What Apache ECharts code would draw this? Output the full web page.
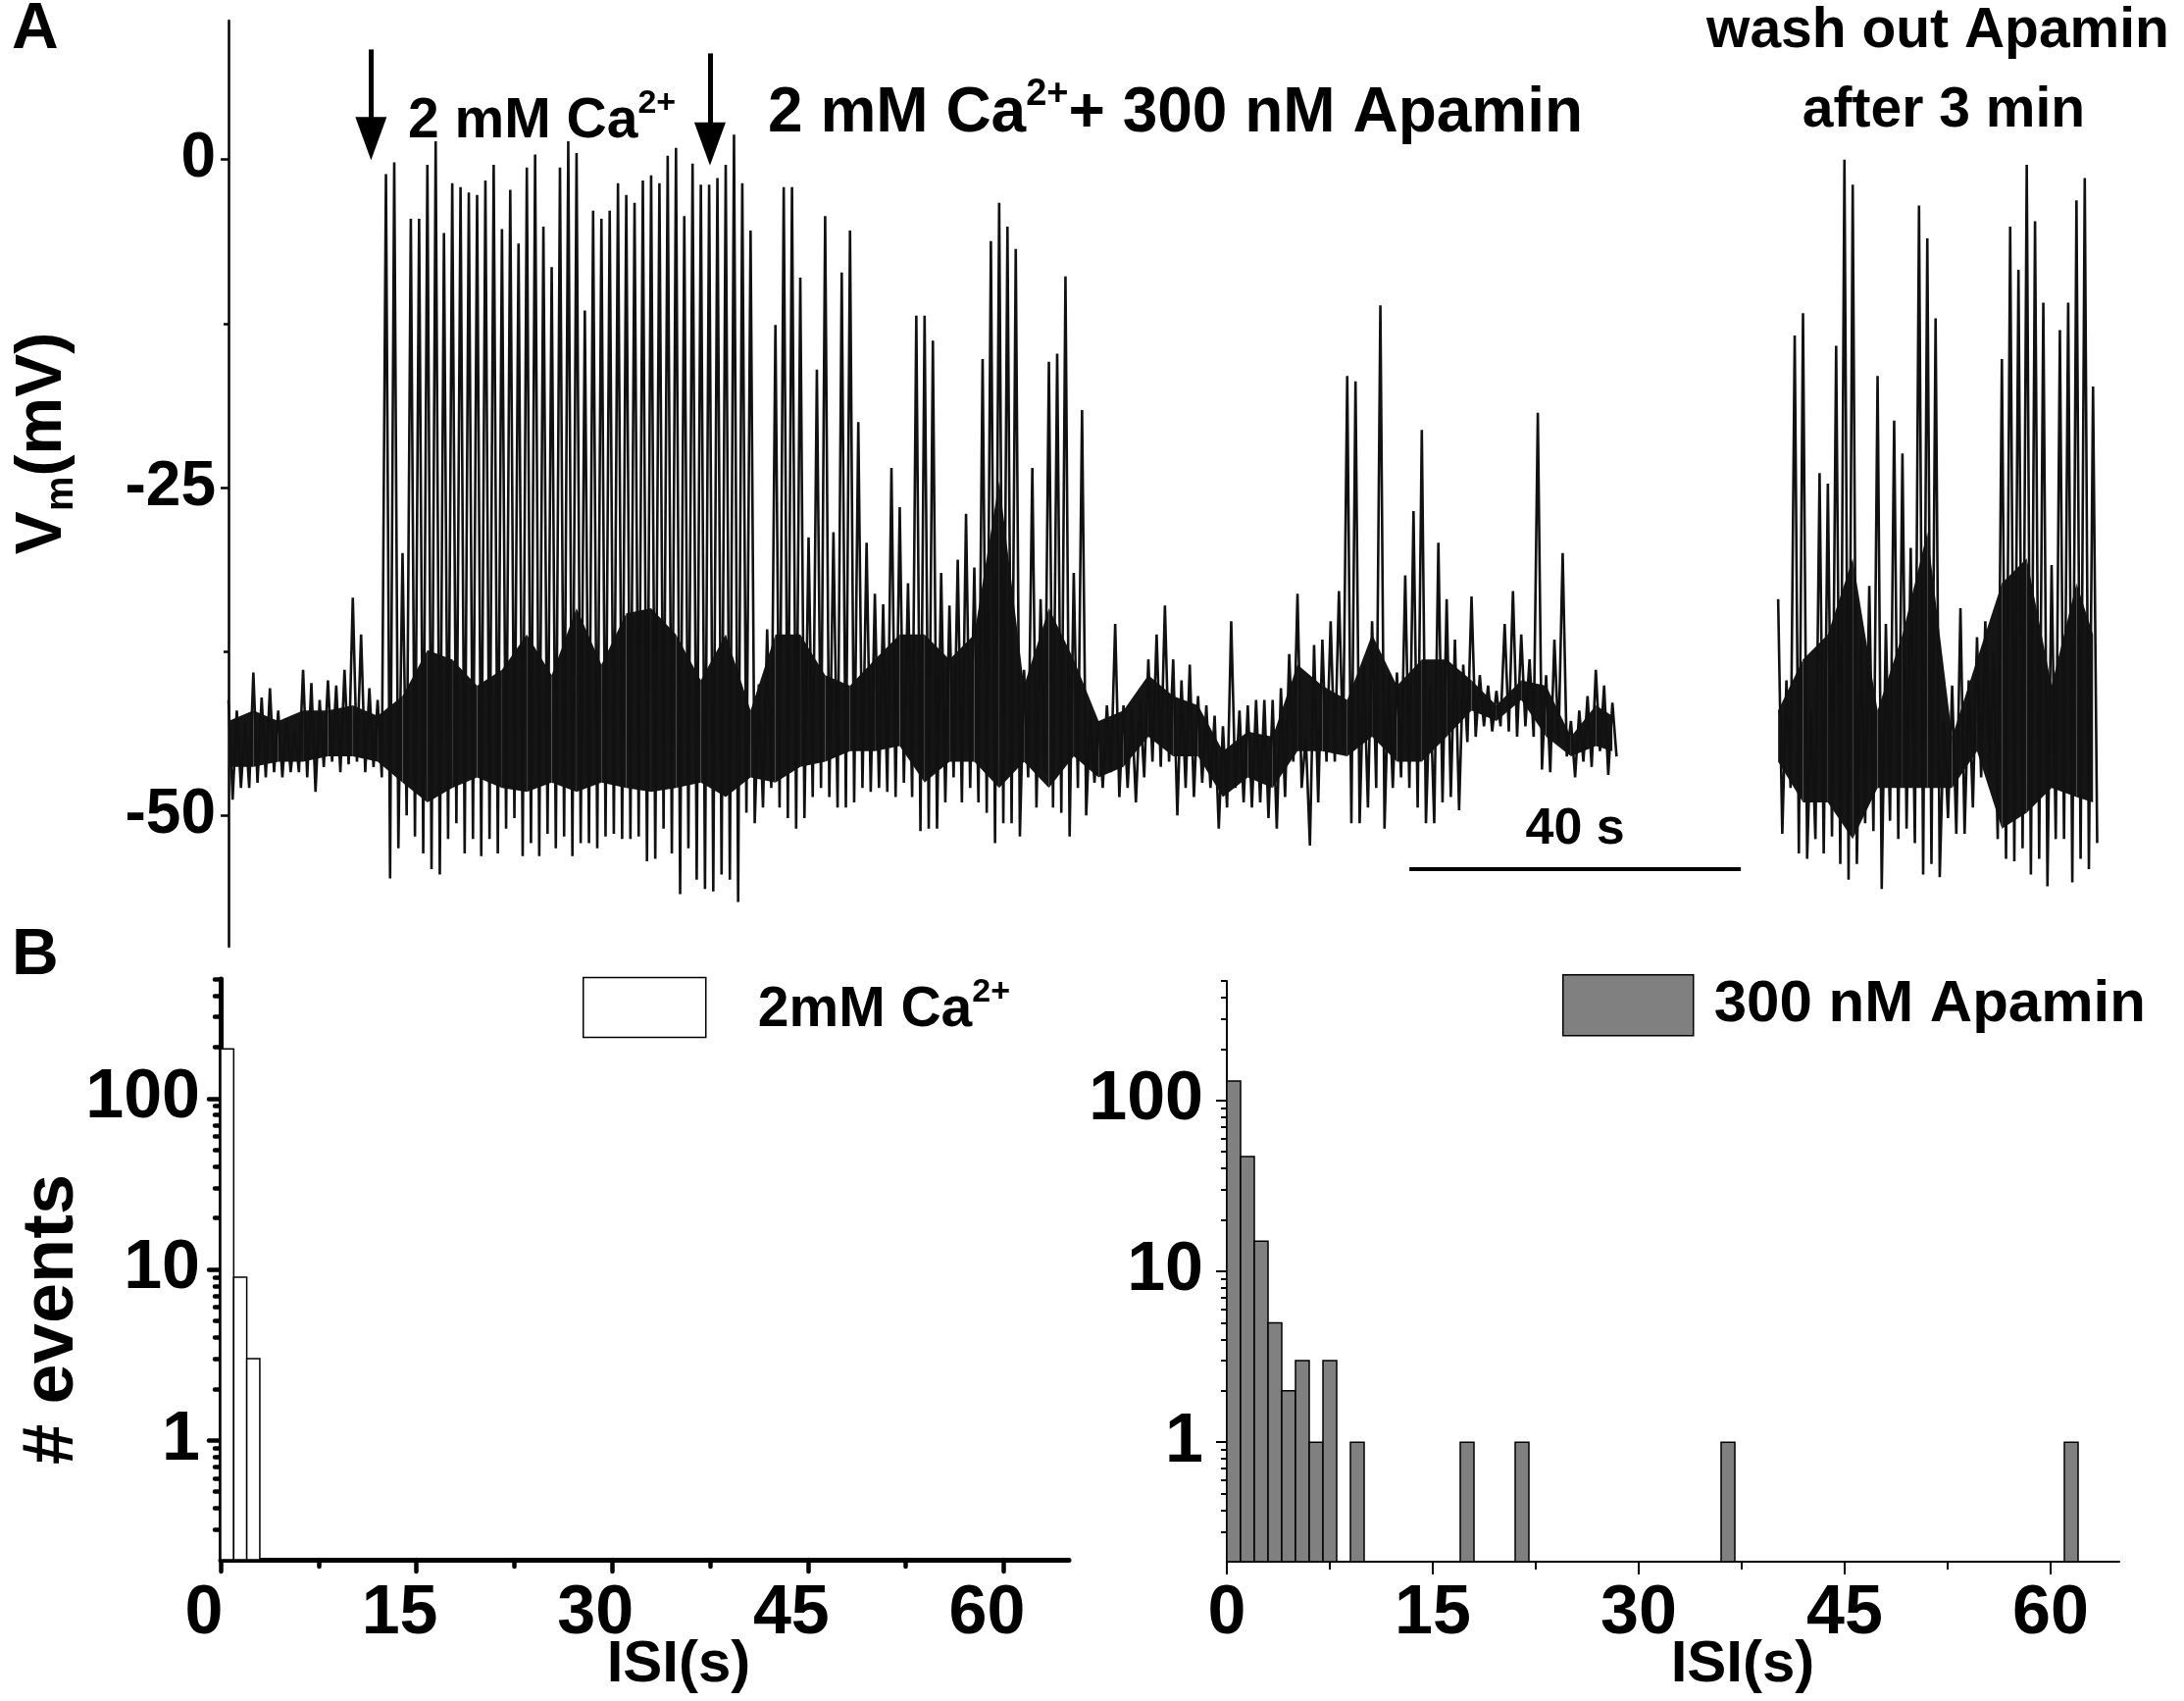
<!DOCTYPE html>
<html>
<head>
<meta charset="utf-8">
<title>Vm trace and ISI histograms</title>
<script src="https://cdn.jsdelivr.net/npm/echarts@6.0.0/dist/echarts.min.js"></script>
<style>
  html, body { margin: 0; padding: 0; background: #fff; }
  #chart { width: 2227px; height: 1734px; }
</style>
</head>
<body>
<div id="chart"></div>
<script>
var seg1Start = 0;     // s
var seg1Hi = [
  -41.2, -42.0, -42.8, -39.1, -41.0, -40.3, -42.0, -42.6, -43.6, -38.9,
  -39.9, -41.2, -39.7, -40.1, -38.9, -33.4, -36.2, -40.3, -41.2, -1.1,
  -0.2, -30, -4.5, -4.5, -0.4, 1.4, -5.6, -1.8, -2.1, -2.5,
  -2.7, -1.6, -0.4, -5.3, -2.3, -6.4, -0.6, 0.4, -5.1, -8.2,
  -0.6, 1.4, 0.5, -11.5, -3.9, -4.5, -3.9, -1.8, -2.7, -3.3,
  -1.6, -1.2, -1.8, 0.3, 0.9, -4.3, -0.3, -1.9, -1.9, -1.4,
  -0.4, 1.9, -1.8, -5.4, -40, -35.8, -12.6, -2.1, -2.1, -9.0,
  -28.8, -16.0, -4.3, -28.4, -8.6, -5.4, -20, -29.2, -33.1, -33.9,
  -23.5, -26.5, -32.3, -11.9, -11.9, -13.8, -31.5, -34, -30.5, -27.0,
  -31.1, -15.2, -6.2, -3.3, -5.1, -6.8, -38.9, -23.5, -33.5, -15.4,
  -14.8, -8.9, -31.5, -19.1, -42.0, -42.8, -41.6, -35.4, -41.6, -41.8,
  -41.4, -38.1, -36.2, -34.0, -38.1, -39.7, -38.5, -40.9, -41.6, -42.4,
  -43.2, -35.2, -42.0, -41.6, -41.2, -41.2, -41.2, -40.3, -37.7, -33.1,
  -44.0, -37.0, -36.6, -35.2, -32.9, -16.5, -16.9, -38.5, -35.2, -11.1,
  -39.3, -39.1, -31.7, -26.8, -20.6, -40.1, -29.2, -33.5, -36.6, -38.5,
  -33.3, -39.3, -40.1, -40.5, -35.4, -32.9, -36.2, -38.1, -19.3, -39.3,
  -36.6, -30.0, -42.8, -42.0, -40.9, -38.9, -40.1, -41.4
];
var seg1Lo = [
  -48.8, -47.9, -47.9, -47.5, -47.1, -46.7, -47.1, -46.7, -46.7, -47.1,
  -48.2, -46.3, -45.9, -46.7, -46.1, -45.9, -46.7, -46.3, -47.1, -54.8,
  -52.5, -50.0, -51.6, -52.9, -54.1, -54.5, -51.8, -50.6, -52.9, -51.8,
  -53.1, -51.8, -52.9, -51.0, -50.2, -53.1, -52.1, -53.1, -51.4, -52.5,
  -51.6, -53.1, -52.1, -52.1, -52.5, -51.6, -51.4, -51.8, -51.8, -51.6,
  -53.5, -53.3, -51.0, -52.9, -56.0, -52.5, -54.9, -55.6, -55.8, -54.5,
  -54.9, -56.6, -49.8, -50.6, -49.4, -47.9, -49.4, -50.2, -51.0, -50.2,
  -48.6, -47.9, -48.6, -49.4, -49.4, -49.0, -47.9, -48.2, -47.9, -48.2,
  -48.6, -47.5, -48.6, -51.2, -51.0, -51.0, -49.0, -47.1, -49.0, -47.9,
  -49.0, -49.8, -52.1, -50.6, -50.6, -51.6, -47.1, -49.4, -46.7, -49.4,
  -49.8, -51.6, -47.9, -50.0, -47.5, -47.9, -46.7, -48.6, -47.9, -49.0,
  -47.1, -45.9, -46.3, -45.9, -50.0, -47.9, -48.6, -47.5, -47.9, -51.0,
  -49.4, -47.9, -49.0, -49.4, -49.0, -50.2, -51.0, -48.6, -45.9, -47.9,
  -52.3, -49.0, -45.9, -45.9, -44.9, -50.6, -50.6, -49.4, -47.9, -51.0,
  -47.9, -47.1, -47.9, -49.4, -50.6, -50.6, -49.0, -48.6, -49.6, -44.4,
  -44.0, -43.2, -43.6, -43.2, -43.6, -44.0, -43.2, -44.0, -46.5, -46.7,
  -44.4, -45.5, -47.1, -45.9, -46.3, -45.1, -46.9, -45.5
];
var seg2Start = 187;   // s, after wash out
var seg2Hi = [
  -33.5, -39.7, -13.4, -11.7, -42.0, -23.9, -24.7, -14.2, 0.0, -1.9,
  -36.4, -32.5, -16.5, -35.4, -19.9, -22.4, -29.6, -3.5, -6.0, -12.1,
  -42.8, -40.1, -34.2, -39.7, -36.4, -35.2, -37.7, -15.2, -5.1, -8.4,
  -0.4, -4.7, -10.9, -30.9, -13.0, -10.9, -3.1, -1.4, -17.3
];
var seg2Lo = [
  -51.4, -47.9, -52.9, -53.3, -51.8, -52.9, -51.6, -53.7, -54.9, -53.7,
  -50.6, -51.2, -55.6, -50.4, -51.8, -51.0, -52.1, -54.5, -53.7, -54.7,
  -50.2, -51.4, -51.4, -49.4, -47.1, -47.1, -51.8, -53.3, -53.5, -52.5,
  -54.5, -53.3, -55.4, -51.8, -51.8, -55.1, -53.3, -54.1, -52.1
];
// dense core of the trace, read every 3 s
var core1T  = [0, 3, 6, 9, 12, 15, 18, 21, 24, 27, 30, 33, 36, 39, 42, 45, 48, 51, 54, 57,
               60, 63, 66, 69, 72, 75, 78, 81, 84, 87, 90, 93, 96, 99, 102, 105, 108, 111, 114, 117,
               120, 123, 126, 129, 132, 135, 138, 141, 144, 147, 150, 153, 156, 159, 162, 165, 167];
var core1Hi = [-42.8, -42.0, -42.8, -42.0, -42.0, -41.6, -42.4, -40.9, -37.4, -38.1, -40.1, -38.9, -36.2, -39.3, -34.2, -38.5, -34.6, -34.2, -36.2, -39.7,
               -36.2, -42.0, -36.2, -36.2, -39.3, -40.1, -38.1, -36.2, -36.2, -38.1, -36.2, -24.5, -40.1, -34.2, -38.1, -42.8, -42.0, -39.3, -40.9, -41.6,
               -45.1, -43.6, -44.0, -38.5, -40.1, -41.2, -36.2, -40.1, -38.1, -38.1, -39.7, -41.6, -39.7, -40.1, -44.0, -41.6, -42.4];
var core1Lo = [-46.3, -46.3, -45.9, -45.9, -45.5, -45.5, -45.9, -47.5, -49.0, -47.9, -47.1, -47.9, -48.2, -47.5, -48.2, -47.5, -47.9, -48.2, -47.9, -47.5,
               -48.6, -47.1, -47.5, -46.3, -45.9, -45.1, -45.1, -44.7, -47.5, -45.9, -45.9, -47.9, -45.9, -47.9, -45.5, -47.1, -46.3, -44.0, -45.5, -45.5,
               -48.6, -47.1, -47.9, -45.1, -45.1, -45.5, -44.0, -45.9, -45.9, -44.0, -42.0, -42.8, -41.2, -44.0, -45.5, -44.7, -45.1];
var core2T  = [187, 190, 193, 196, 199, 202, 205, 208, 211, 214, 217, 220, 223, 225];
var core2Hi = [-42.0, -38.1, -36.2, -30.4, -42.0, -36.2, -28.4, -44.0, -38.1, -32.3, -30.4, -40.1, -32.3, -36.2];
var core2Lo = [-45.9, -49.0, -49.0, -51.8, -47.9, -47.9, -47.9, -47.9, -45.1, -51.0, -49.8, -47.9, -48.6, -49.0];
var vmTicks = [-50, -25, 0];
var vmMinorTicks = [-37.5, -12.5];

// ---- panel B: ISI histograms, 1 s bins
var caBins = [0, 1, 2];
var caCounts = [195, 9, 3];
var apaBins = [0, 1, 2, 3, 4, 5, 6, 7, 9, 17, 21, 36, 61];
var apaCounts = [130, 47, 15, 5, 2, 3, 1, 3, 1, 1, 1, 1, 1];
var isiTicks = [0, 15, 30, 45, 60];
var isiMinorTicks = [7.5, 22.5, 37.5, 52.5];
var countTicks = [1, 10, 100];
var countMinorTicks = [0.3, 0.4, 0.5, 0.6, 0.7, 0.8, 0.9, 2, 3, 4, 5, 6, 7, 8, 9,
                       20, 30, 40, 50, 60, 70, 80, 90, 200, 300, 400, 500];

var FONT = "'Liberation Sans', Arial, Helvetica, sans-serif";
var COUNT_MIN = 0.2, COUNT_MAX = 500;

function zigzag(start, hi, lo) {
  var pts = [];
  for (var i = 0; i < hi.length; i++) {
    pts.push([start + i, hi[i]]);
    pts.push([start + i + 0.5, lo[i]]);
  }
  return pts;
}
function bandPieces(t, hi, lo) {
  var out = [];
  for (var i = 0; i < t.length - 1; i++) {
    out.push([t[i], hi[i], lo[i], t[i + 1], hi[i + 1], lo[i + 1]]);
  }
  return out;
}
function histData(bins, counts) {
  return bins.map(function (b, i) { return [b, b + 1, counts[i]]; });
}

function renderBand(params, api) {
  var a1 = api.coord([api.value(0), api.value(1)]);
  var a2 = api.coord([api.value(3), api.value(4)]);
  var b2 = api.coord([api.value(3), api.value(5)]);
  var b1 = api.coord([api.value(0), api.value(2)]);
  return { type: 'polygon', shape: { points: [a1, a2, b2, b1] }, style: { fill: '#151515' } };
}
function histRenderer(fill) {
  return function (params, api) {
    var tl = api.coord([api.value(0), api.value(2)]);
    var br = api.coord([api.value(1), COUNT_MIN]);
    return {
      type: 'rect',
      shape: { x: tl[0], y: tl[1], width: br[0] - tl[0], height: br[1] - tl[1] },
      style: { fill: fill, stroke: '#000', lineWidth: 1.5 }
    };
  };
}

function valueAxis(extra) {
  var base = {
    type: 'value', splitLine: { show: false }, axisLine: { show: false },
    axisTick: { show: false }, axisLabel: { show: false }
  };
  return Object.assign(base, extra);
}

var chart = echarts.init(document.getElementById('chart'));

var tickLabel = { fontFamily: FONT, fontWeight: 'bold', color: '#000' };

chart.setOption({
  animation: false,
  backgroundColor: '#fff',
  grid: [
    { left: 233, top: 21, width: 1943.5, height: 944 },
    { left: 225, top: 998, width: 865, height: 592 },
    { left: 1251, top: 1000, width: 910, height: 592 }
  ],
  xAxis: [
    valueAxis({ gridIndex: 0, min: 0, max: 230, show: false }),
    valueAxis({
      gridIndex: 1, position: 'bottom', min: 0, max: 65,
      axisLine: { show: true, lineStyle: { color: '#000', width: 5 } },
      axisTick: { show: true, customValues: isiTicks, length: 12, lineStyle: { width: 4.5, cap: 'round' } },
      axisLabel: Object.assign({ show: true, customValues: isiTicks, fontSize: 70, margin: 21, padding: [0, 34, 0, 0] }, tickLabel)
    }),
    valueAxis({
      gridIndex: 1, position: 'bottom', min: 0, max: 65,
      axisTick: { show: true, customValues: isiMinorTicks, length: 7, lineStyle: { color: '#000', width: 4.5, cap: 'round' } }
    }),
    valueAxis({
      gridIndex: 2, position: 'bottom', min: 0, max: 65,
      axisLine: { show: true, lineStyle: { color: '#000', width: 2 } },
      axisTick: { show: true, customValues: isiTicks, length: 13, lineStyle: { width: 2 } },
      axisLabel: Object.assign({ show: true, customValues: isiTicks, fontSize: 70, margin: 19 }, tickLabel)
    }),
    valueAxis({
      gridIndex: 2, position: 'bottom', min: 0, max: 65,
      axisTick: { show: true, customValues: isiMinorTicks, length: 8, lineStyle: { color: '#000', width: 2 } }
    })
  ],
  yAxis: [
    valueAxis({
      gridIndex: 0, position: 'left', min: -60, max: 10.6,
      axisLine: { show: true, lineStyle: { color: '#000', width: 2.5 } },
      axisTick: { show: true, customValues: vmTicks, length: 8, lineStyle: { width: 2.5 } },
      axisLabel: Object.assign({ show: true, customValues: vmTicks, fontSize: 64, margin: 13 }, tickLabel)
    }),
    valueAxis({
      gridIndex: 0, position: 'left', min: -60, max: 10.6,
      axisTick: { show: true, customValues: vmMinorTicks, length: 5, lineStyle: { color: '#000', width: 2.5 } }
    }),
    valueAxis({
      type: 'log', logBase: 10, gridIndex: 1, position: 'left', min: COUNT_MIN, max: COUNT_MAX,
      axisLine: { show: true, lineStyle: { color: '#000', width: 5 } },
      axisTick: { show: true, customValues: countTicks, length: 12, lineStyle: { width: 4.5, cap: 'round' } },
      axisLabel: Object.assign({ show: true, customValues: countTicks, fontSize: 70, margin: 21 }, tickLabel)
    }),
    valueAxis({
      type: 'log', logBase: 10, gridIndex: 1, position: 'left', min: COUNT_MIN, max: COUNT_MAX,
      axisTick: { show: true, customValues: countMinorTicks, length: 6, lineStyle: { color: '#000', width: 4.5, cap: 'round' } }
    }),
    valueAxis({
      type: 'log', logBase: 10, gridIndex: 2, position: 'left', min: COUNT_MIN, max: COUNT_MAX,
      axisLine: { show: true, lineStyle: { color: '#000', width: 2 } },
      axisTick: { show: true, customValues: countTicks, length: 11, lineStyle: { width: 2 } },
      axisLabel: Object.assign({ show: true, customValues: countTicks, fontSize: 70, margin: 24 }, tickLabel)
    }),
    valueAxis({
      type: 'log', logBase: 10, gridIndex: 2, position: 'left', min: COUNT_MIN, max: COUNT_MAX,
      axisTick: { show: true, customValues: countMinorTicks, length: 6, lineStyle: { color: '#000', width: 2 } }
    })
  ],
  legend: [
    {
      data: [{ name: '2mM Ca2+', itemStyle: { color: '#fff', borderColor: '#000', borderWidth: 1.5 } }],
      left: 589, top: 990, itemWidth: 125, itemHeight: 61, icon: 'rect', selectedMode: false,
      formatter: function () { return '{t|2mM Ca}{s|2+}'; },
      textStyle: {
        rich: {
          t: { fontFamily: FONT, fontWeight: 'bold', fontSize: 57, color: '#000', padding: [0, 0, 0, 48], lineHeight: 64, verticalAlign: 'bottom' },
          s: { fontFamily: FONT, fontWeight: 'bold', fontSize: 34, color: '#000', lineHeight: 36, verticalAlign: 'top' }
        }
      }
    },
    {
      data: [{ name: '300 nM Apamin', itemStyle: { color: '#808080', borderColor: '#000', borderWidth: 1.5 } }],
      left: 1588, top: 988, itemWidth: 133, itemHeight: 62, icon: 'rect', selectedMode: false,
      formatter: function (n) { return '{t|' + n + '}'; },
      textStyle: {
        rich: { t: { fontFamily: FONT, fontWeight: 'bold', fontSize: 60, color: '#000', padding: [0, 0, 0, 16] } }
      }
    }
  ],
  series: [
    { type: 'custom', xAxisIndex: 0, yAxisIndex: 0, renderItem: renderBand, data: bandPieces(core1T, core1Hi, core1Lo), silent: true },
    { type: 'custom', xAxisIndex: 0, yAxisIndex: 0, renderItem: renderBand, data: bandPieces(core2T, core2Hi, core2Lo), silent: true },
    {
      type: 'line', xAxisIndex: 0, yAxisIndex: 0, data: zigzag(seg1Start, seg1Hi, seg1Lo),
      showSymbol: false, symbol: 'none', silent: true,
      lineStyle: { color: '#111', width: 2.6 },
      markLine: {
        silent: true, symbol: ['none', 'none'], label: { show: false },
        data: [
          [{ coord: [17.2, 8.4], symbol: 'none' },
           { coord: [17.2, 1.6], symbol: 'triangle', symbolSize: [32, 44], lineStyle: { color: '#000', width: 5, type: 'solid' } }],
          [{ coord: [58.1, 8.1], symbol: 'none' },
           { coord: [58.1, 1.2], symbol: 'triangle', symbolSize: [32, 44], lineStyle: { color: '#000', width: 5, type: 'solid' } }],
          [{ coord: [142.5, -54.1], symbol: 'none' },
           { coord: [182.5, -54.1], symbol: 'none',
             lineStyle: { color: '#000', width: 4, type: 'solid' },
             label: { show: true, formatter: '40 s', position: 'insideMiddleTop', distance: 14,
                      fontFamily: FONT, fontWeight: 'bold', fontSize: 52, color: '#000' } }]
        ]
      }
    },
    {
      type: 'line', xAxisIndex: 0, yAxisIndex: 0, data: zigzag(seg2Start, seg2Hi, seg2Lo),
      showSymbol: false, symbol: 'none', silent: true,
      lineStyle: { color: '#111', width: 2.6 }
    },
    {
      name: '2mM Ca2+', type: 'custom', xAxisIndex: 1, yAxisIndex: 2,
      renderItem: histRenderer('#fff'), encode: { x: [0, 1], y: 2 },
      itemStyle: { color: '#fff', borderColor: '#000', borderWidth: 1.5 },
      data: histData(caBins, caCounts)
    },
    {
      name: '300 nM Apamin', type: 'custom', xAxisIndex: 3, yAxisIndex: 4,
      renderItem: histRenderer('#808080'), encode: { x: [0, 1], y: 2 },
      itemStyle: { color: '#808080', borderColor: '#000', borderWidth: 1.5 },
      data: histData(apaBins, apaCounts)
    }
  ],
  graphic: [
    { type: 'text', x: 12, y: 31, style: { text: 'A', font: 'bold 66px ' + FONT, fill: '#000', verticalAlign: 'middle', textVerticalAlign: 'middle' } },
    { type: 'text', x: 12, y: 975, style: { text: 'B', font: 'bold 66px ' + FONT, fill: '#000', verticalAlign: 'middle', textVerticalAlign: 'middle' } },
    {
      type: 'text', x: 47, y: 452, rotation: Math.PI / 2,
      style: {
        text: '{a|V}{b|m}{a|(mV)}', fill: '#000',
        align: 'center', textAlign: 'center', verticalAlign: 'middle', textVerticalAlign: 'middle',
        rich: {
          a: { fontFamily: FONT, fontWeight: 'bold', fontSize: 66, lineHeight: 72, verticalAlign: 'top' },
          b: { fontFamily: FONT, fontWeight: 'bold', fontSize: 40, lineHeight: 40, verticalAlign: 'bottom' }
        }
      }
    },
    {
      type: 'text', x: 416, y: 121,
      style: {
        text: '{a|2 mM Ca}{s|2+}', fill: '#000', verticalAlign: 'middle', textVerticalAlign: 'middle',
        rich: {
          a: { fontFamily: FONT, fontWeight: 'bold', fontSize: 57, lineHeight: 64, verticalAlign: 'bottom' },
          s: { fontFamily: FONT, fontWeight: 'bold', fontSize: 34, lineHeight: 36, verticalAlign: 'top' }
        }
      }
    },
    {
      type: 'text', x: 783, y: 113,
      style: {
        text: '{a|2 mM Ca}{s|2+}{a|+ 300 nM Apamin}', fill: '#000', verticalAlign: 'middle', textVerticalAlign: 'middle',
        rich: {
          a: { fontFamily: FONT, fontWeight: 'bold', fontSize: 64, lineHeight: 70, verticalAlign: 'bottom' },
          s: { fontFamily: FONT, fontWeight: 'bold', fontSize: 38, lineHeight: 38, verticalAlign: 'top' }
        }
      }
    },
    { type: 'text', x: 1976, y: 32, style: { text: 'wash out Apamin', font: 'bold 57px ' + FONT, fill: '#000', align: 'center', textAlign: 'center', verticalAlign: 'middle', textVerticalAlign: 'middle' } },
    { type: 'text', x: 1982, y: 113, style: { text: 'after 3 min', font: 'bold 57px ' + FONT, fill: '#000', align: 'center', textAlign: 'center', verticalAlign: 'middle', textVerticalAlign: 'middle' } },
    {
      type: 'text', x: 54, y: 1345, rotation: Math.PI / 2,
      style: { text: '# events', font: 'bold 74px ' + FONT, fill: '#000', align: 'center', textAlign: 'center', verticalAlign: 'middle', textVerticalAlign: 'middle' }
    },
    { type: 'text', x: 692, y: 1697, style: { text: 'ISI(s)', font: 'bold 60px ' + FONT, fill: '#000', align: 'center', textAlign: 'center', verticalAlign: 'middle', textVerticalAlign: 'middle' } },
    { type: 'text', x: 1777, y: 1697, style: { text: 'ISI(s)', font: 'bold 60px ' + FONT, fill: '#000', align: 'center', textAlign: 'center', verticalAlign: 'middle', textVerticalAlign: 'middle' } }
  ]
});
</script>
</body>
</html>
